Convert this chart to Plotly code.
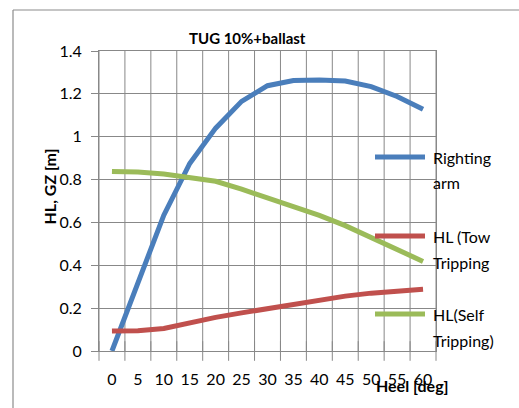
import plotly.graph_objects as go

heel = ["0", "5", "10", "15", "20", "25", "30", "35", "40", "45", "50", "55", "60"]
righting_arm = [0.0, 0.32, 0.634, 0.875, 1.04, 1.165, 1.238, 1.262, 1.265, 1.26, 1.234, 1.188, 1.128]
hl_tow = [0.093, 0.095, 0.105, 0.132, 0.157, 0.178, 0.198, 0.22, 0.24, 0.256, 0.27, 0.28, 0.288]
hl_self = [0.838, 0.835, 0.826, 0.81, 0.792, 0.755, 0.715, 0.672, 0.633, 0.585, 0.53, 0.474, 0.418]

series_names = ["Righting arm", "HL (Tow Tripping", "HL(Self Tripping)"]
legend_lines = [["Righting", "arm"], ["HL (Tow", "Tripping"], ["HL(Self", "Tripping)"]]
colors = ["#4A7EBB", "#C0504D", "#9BBB59"]
y_ticks = [0, 0.2, 0.4, 0.6, 0.8, 1.0, 1.2, 1.4]
y_ticktext = ["0", "0.2", "0.4", "0.6", "0.8", "1", "1.2", "1.4"]

FONT = "Lato"
GRID = "#888888"

xnum = [float(h) for h in heel]
step = xnum[1] - xnum[0]
bounds = [x - step / 2 for x in xnum] + [xnum[-1] + step / 2]
xrange = [bounds[0], bounds[-1]]
yrange = [y_ticks[0], y_ticks[-1]]

fig = go.Figure()

# category-boundary gridlines (Excel style) drawn as a line trace beneath the data
gx, gy = [], []
for b in bounds:
    gx += [b, b, None]
    gy += [yrange[0], yrange[1], None]
fig.add_trace(go.Scatter(x=gx, y=gy, mode="lines", line=dict(color=GRID, width=1),
                         showlegend=False, hoverinfo="skip"))
# outside tick marks at the boundaries
fig.add_trace(go.Scatter(x=bounds, y=[yrange[0]] * len(bounds), mode="markers",
                         marker=dict(symbol="line-ns", size=14, color=GRID,
                                     line=dict(color=GRID, width=1)),
                         cliponaxis=False, showlegend=False, hoverinfo="skip"))

for name, vals, col in zip(series_names, [righting_arm, hl_tow, hl_self], colors):
    fig.add_trace(go.Scatter(x=xnum, y=vals, mode="lines", name=name,
                             line=dict(color=col, width=5), showlegend=False))

# plot area geometry in px
L, R, T, B = 99, 436, 51, 351
W, H = R - L, B - T
px = lambda x: (x - L) / W
py = lambda y: (B - y) / H

fig.update_layout(
    width=519, height=408,
    margin=dict(l=L, r=519 - R, t=T, b=408 - B, pad=0),
    paper_bgcolor="white", plot_bgcolor="white",
    font=dict(family=FONT, size=16, color="black"),
    xaxis=dict(range=xrange, tickmode="array", tickvals=xnum, ticktext=heel, tickangle=0,
               showgrid=False, zeroline=False,
               showline=True, mirror=True, linecolor=GRID, linewidth=1,
               ticks="", tickfont=dict(family=FONT, size=16), ticklabelstandoff=14),
    yaxis=dict(range=yrange, tickvals=y_ticks, ticktext=y_ticktext,
               showgrid=True, gridcolor=GRID, gridwidth=1, zeroline=False,
               showline=True, mirror=True, linecolor=GRID, linewidth=1,
               ticks="outside", ticklen=7, tickcolor=GRID, tickwidth=1,
               tickfont=dict(family=FONT, size=16), ticklabelstandoff=6),
)

# outer chart border (left and top edges visible in the frame)
fig.add_shape(type="line", xref="paper", yref="paper",
              x0=px(13), x1=px(13), y0=py(10), y1=py(420),
              line=dict(color="#8c8c8c", width=1.2))
fig.add_shape(type="line", xref="paper", yref="paper",
              x0=px(13), x1=px(530), y0=py(10), y1=py(10),
              line=dict(color="#8c8c8c", width=1.2))

fig.add_annotation(text="<b>TUG 10%+ballast</b>", xref="paper", yref="paper",
                   x=px(247.5), y=py(27), showarrow=False, font=dict(family=FONT, size=15))
fig.add_annotation(text="<b>HL, GZ [m]</b>", xref="paper", yref="paper",
                   x=px(37), y=py(187), showarrow=False, textangle=-90,
                   font=dict(family=FONT, size=16))
fig.add_annotation(text="<b>Heel [deg]</b>", xref="paper", yref="paper",
                   x=px(451), y=py(397), showarrow=False, font=dict(family=FONT, size=16))

# manual legend
legend_y = [157, 236, 314]
for lines, col, ly in zip(legend_lines, colors, legend_y):
    fig.add_shape(type="line", xref="paper", yref="paper",
                  x0=px(375), x1=px(425), y0=py(ly), y1=py(ly),
                  line=dict(color=col, width=5))
    for i, t in enumerate(lines):
        fig.add_annotation(text=t, xref="paper", yref="paper", x=px(431), y=py(ly + 26 * i),
                           xanchor="left", yanchor="middle", showarrow=False,
                           font=dict(family=FONT, size=16))

fig.write_html("out.html")
